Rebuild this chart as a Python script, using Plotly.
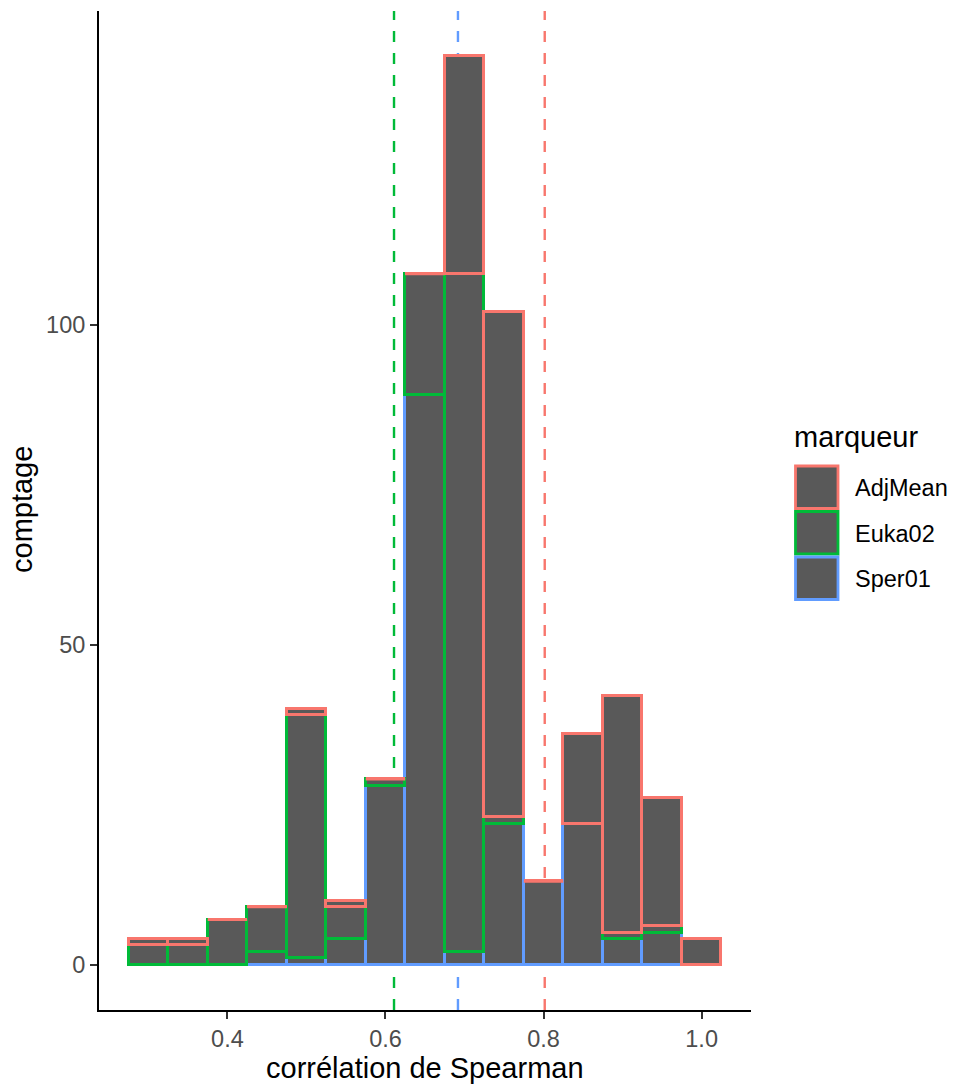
import plotly.graph_objects as go

# ---- data ----
bin_centers = [0.30, 0.35, 0.40, 0.45, 0.50, 0.55, 0.60, 0.65, 0.70, 0.75, 0.80, 0.85, 0.90, 0.95, 1.00]
bin_width = 0.05
markers = ["Sper01", "Euka02", "AdjMean"]  # drawing / stacking order (bottom -> top)
counts_sper01 = [0, 0, 0, 2, 1, 4, 28, 89, 2, 22, 13, 22, 4, 5, 0]
counts_euka02 = [3, 3, 7, 7, 38, 5, 1, 19, 106, 1, 0, 0, 1, 1, 0]
counts_adjmean = [1, 1, 0, 0, 1, 1, 0, 0, 34, 79, 0, 14, 37, 20, 4]
marker_means = {"AdjMean": 0.8015, "Euka02": 0.6108, "Sper01": 0.6917}
x_ticks = [0.4, 0.6, 0.8, 1.0]
x_tick_labels = ["0.4", "0.6", "0.8", "1.0"]
y_ticks = [0, 50, 100]
y_tick_labels = ["0", "50", "100"]

colors = {"AdjMean": "#F8766D", "Euka02": "#00BA38", "Sper01": "#619CFF"}
counts = {"Sper01": counts_sper01, "Euka02": counts_euka02, "AdjMean": counts_adjmean}
FILL = "#595959"
FONT = "Liberation Sans"
BAR_LW = 2.6

fig = go.Figure()
for m in markers:
    fig.add_trace(go.Bar(
        x=bin_centers, y=counts[m], width=bin_width, name=m,
        marker=dict(color=FILL, line=dict(color=colors[m], width=BAR_LW)),
        showlegend=False, hoverinfo="skip",
    ))

# zero-count top group draws a flat outline at the top of the stack
zx, zy = [], []
for i, c in enumerate(bin_centers):
    if counts_adjmean[i] == 0:
        tot = counts_sper01[i] + counts_euka02[i]
        zx += [c - bin_width / 2, c + bin_width / 2, None]
        zy += [tot, tot, None]
fig.add_trace(go.Scatter(x=zx, y=zy, mode="lines", line=dict(color=colors["AdjMean"], width=BAR_LW),
                         showlegend=False, hoverinfo="skip"))

# mean lines (drawn beneath the bars)
for m in ["Euka02", "Sper01", "AdjMean"]:
    fig.add_shape(type="line", xref="x", yref="paper", x0=marker_means[m], x1=marker_means[m],
                  y0=0, y1=1, layer="below",
                  line=dict(color=colors[m], width=2.4, dash="11px,11px"))

W, H = 953, 1086
L, R, T, B = 99, 751, 11, 1010


def px(xp):
    return (xp - L) / (R - L)


def py(yp):
    return (B - yp) / (B - T)


# custom legend
fig.add_annotation(x=px(792), y=py(437), xref="paper", yref="paper", text="marqueur",
                   showarrow=False, xanchor="left", yanchor="middle",
                   font=dict(family=FONT, size=29, color="black"))
legend_order = ["AdjMean", "Euka02", "Sper01"]
key_tops = [466, 511.5, 557]
for m, top in zip(legend_order, key_tops):
    fig.add_shape(type="rect", xref="paper", yref="paper",
                  x0=px(795.5), x1=px(838), y0=py(top), y1=py(top + 42.5),
                  fillcolor=FILL, line=dict(color=colors[m], width=2.8))
    fig.add_annotation(x=px(853), y=py(top + 22), xref="paper", yref="paper", text=m,
                       showarrow=False, xanchor="left", yanchor="middle",
                       font=dict(family=FONT, size=23.5, color="black"))

# axis titles
fig.add_annotation(x=px(425), y=py(1068), xref="paper", yref="paper", text="corrélation de Spearman",
                   showarrow=False, xanchor="center", yanchor="middle",
                   font=dict(family=FONT, size=29, color="black"))
fig.add_annotation(x=px(22), y=py(510), xref="paper", yref="paper", text="comptage",
                   showarrow=False, xanchor="center", yanchor="middle", textangle=-90,
                   font=dict(family=FONT, size=29, color="black"))

fig.update_layout(
    width=W, height=H, autosize=False,
    margin=dict(l=L, r=W - R, t=T, b=H - B, pad=0),
    plot_bgcolor="white", paper_bgcolor="white",
    barmode="stack", bargap=0,
    showlegend=False,
    font=dict(family=FONT),
)
fig.update_xaxes(range=[0.2375, 1.0625], tickvals=x_ticks, ticktext=x_tick_labels,
                 showgrid=False, zeroline=False, showline=True, linecolor="black", linewidth=2,
                 ticks="outside", ticklen=7, tickwidth=2, tickcolor="#333333",
                 tickfont=dict(family=FONT, size=23.5, color="#4D4D4D"))
fig.update_yaxes(range=[-7.1, 149.1], tickvals=y_ticks, ticktext=y_tick_labels,
                 showgrid=False, zeroline=False, showline=True, linecolor="black", linewidth=2,
                 ticks="outside", ticklen=7, tickwidth=2, tickcolor="#333333",
                 tickfont=dict(family=FONT, size=23.5, color="#4D4D4D"))

fig.write_html("out.html", config={"displayModeBar": False},
               post_script="document.body.style.margin='0';document.body.style.overflow='hidden';")
